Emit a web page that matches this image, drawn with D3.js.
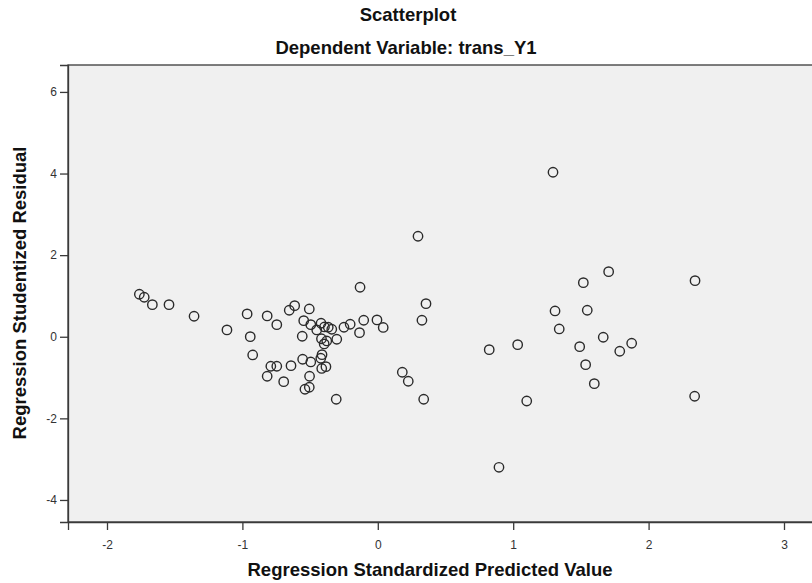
<!DOCTYPE html>
<html><head><meta charset="utf-8">
<script src="https://cdn.jsdelivr.net/npm/d3@7"></script>
<style>body{margin:0;background:#fff;}svg{display:block;font-family:"Liberation Sans",Arial,sans-serif;}</style>
</head><body>
<svg id="c" width="812" height="583"></svg>
<script>
const chartTitle = "Scatterplot";
const chartSubtitle = "Dependent Variable: trans_Y1";
const xLabel = "Regression Standardized Predicted Value";
const yLabel = "Regression Studentized Residual";
const xTicks = [-2, -1, 0, 1, 2, 3];
const yTicks = [-4, -2, 0, 2, 4, 6];
const predicted = [-1.761,-1.725,-1.665,-1.542,-1.357,-1.114,-0.965,-0.942,-0.924,-0.817,-0.746,-0.817,-0.790,-0.746,-0.695,-0.654,-0.614,-0.641,-0.506,-0.547,-0.558,-0.555,-0.495,-0.495,-0.504,-0.538,-0.506,-0.451,-0.419,-0.416,-0.394,-0.366,-0.340,-0.377,-0.396,-0.412,-0.421,-0.414,-0.383,-0.303,-0.307,-0.250,-0.204,-0.131,-0.135,-0.104,-0.006,0.040,0.297,0.356,0.326,0.181,0.225,0.339,0.823,0.895,1.033,1.100,1.294,1.309,1.340,1.491,1.518,1.547,1.535,1.599,1.665,1.705,1.787,1.875,2.343,2.340];
const residual = [1.042,0.968,0.787,0.787,0.502,0.167,0.559,0.002,-0.446,0.510,0.297,-0.968,-0.723,-0.723,-1.100,0.650,0.762,-0.708,0.681,0.395,0.012,-0.551,0.297,-0.618,-0.968,-1.287,-1.238,0.167,0.331,-0.049,0.240,0.233,0.184,-0.103,-0.176,-0.439,-0.527,-0.777,-0.733,-0.061,-1.532,0.233,0.306,1.213,0.100,0.404,0.412,0.228,2.463,0.811,0.404,-0.870,-1.091,-1.532,-0.316,-3.199,-0.194,-1.574,4.032,0.632,0.191,-0.243,1.326,0.650,-0.684,-1.150,-0.012,1.596,-0.355,-0.159,1.375,-1.458];

const svg = d3.select("#c");
const L = 68, T = 65, B = 522;
const x = d3.scaleLinear().domain([-2.288, 3.35]).range([L, L + 5.638*135.4]);
const y = d3.scaleLinear().domain([-4.54, 6.66]).range([B, T]);

svg.append("rect").attr("x", L).attr("y", T).attr("width", 900).attr("height", B - T)
  .attr("fill", "#f0f0f0").attr("stroke", "#3a3a3a").attr("stroke-width", 1.3);

const pts = predicted.map((d, i) => ({x: d, y: residual[i]}));
svg.append("g").selectAll("circle").data(pts).join("circle")
  .attr("cx", d => x(d.x)).attr("cy", d => y(d.y)).attr("r", 4.7)
  .attr("fill", "none").attr("stroke", "#2a2a2a").attr("stroke-width", 1.4);

const xa = svg.append("g").attr("transform", `translate(0,${B})`)
  .call(d3.axisBottom(x).tickValues(xTicks).tickFormat(d => String(d)).tickSizeOuter(0).tickSize(8).tickPadding(10));
const ya = svg.append("g").attr("transform", `translate(${L},0)`)
  .call(d3.axisLeft(y).tickValues(yTicks).tickFormat(d => String(d)).tickSizeOuter(0).tickSize(8).tickPadding(3));
[xa, ya].forEach(a => {
  a.select(".domain").attr("stroke", "#3a3a3a").attr("stroke-width", 1.3);
  a.selectAll(".tick line").attr("stroke", "#3a3a3a").attr("stroke-width", 1.3);
  a.selectAll(".tick text").attr("fill", "#333").style("font-size", "12px").style("font-family", "'Liberation Sans',Arial,sans-serif");
});

svg.append("text").attr("x", 408).attr("y", 21).attr("text-anchor", "middle")
  .style("font-weight", "bold").style("font-size", "18.5px").attr("fill", "#111").text(chartTitle);
svg.append("text").attr("x", 406).attr("y", 54).attr("text-anchor", "middle")
  .style("font-weight", "bold").style("font-size", "18.5px").attr("fill", "#111").text(chartSubtitle);
svg.append("text").attr("x", 430).attr("y", 576).attr("text-anchor", "middle")
  .style("font-weight", "bold").style("font-size", "18.5px").attr("fill", "#111").text(xLabel);
svg.append("text").attr("transform", "translate(26,293) rotate(-90)").attr("text-anchor", "middle")
  .style("font-weight", "bold").style("font-size", "18.5px").attr("fill", "#111").text(yLabel);
</script>
</body></html>
